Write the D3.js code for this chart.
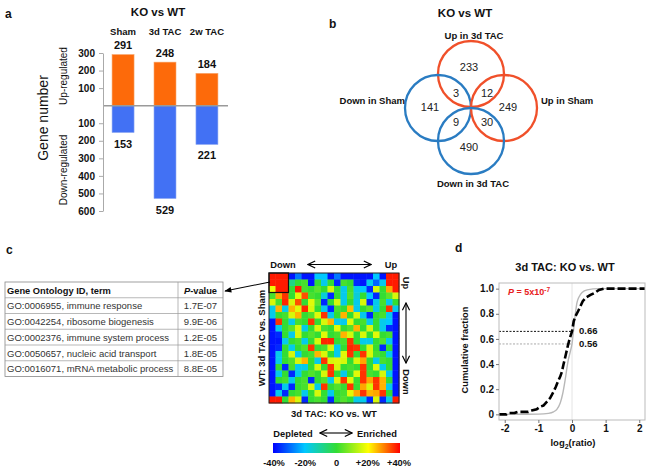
<!DOCTYPE html>
<html><head><meta charset="utf-8">
<script src="https://cdn.jsdelivr.net/npm/d3@7"></script>
<style>body{margin:0;background:#fff;} svg{display:block;}</style>
</head><body><svg id="chart" width="651" height="470"></svg>
<script>
// ---------- DATA ----------
const categories = ["Sham", "3d TAC", "2w TAC"];
const upValues = [291, 248, 184];
const downValues = [153, 529, 221];
const geneTicks = [300, 200, 100, -100, -200, -300, -400, -500, -600];

const vennSets = ["Up in 3d TAC", "Down in Sham", "Up in Sham", "Down in 3d TAC"];
const vennRegions = ["only 3d up", "3d up & sham down", "3d up & sham up", "only sham down", "only sham up", "sham down & 3d down", "sham up & 3d down", "only 3d down"];
const vennCounts = [233, 3, 12, 141, 249, 9, 30, 490];

const goHeader = ["Gene Ontology ID, term", "P-value"];
const goTerms = ["GO:0006955, immune response", "GO:0042254, ribosome biogenesis", "GO:0002376, immune system process", "GO:0050657, nucleic acid transport", "GO:0016071, mRNA metabolic process"];
const goPvalues = ["1.7E-07", "9.9E-06", "1.2E-05", "1.8E-05", "8.8E-05"];

const heatmap = [
 [38,38,38,-38,-28,-38,-38,-20,-20,-38,-28,-38,-38,-38,-38,-38,-20,-38,38,38],
 [38,38,38,-8,0,2,-38,0,-18,0,-36,2,0,-36,-38,-18,-30,-18,38,38],
 [18,38,38,0,38,2,0,4,0,16,0,-18,2,-18,-20,-36,16,0,27,38],
 [2,27,36,0,17,34,2,0,-16,-36,0,-18,3,-16,0,-20,-36,0,4,16],
 [16,2,37,16,34,0,17,4,-36,0,16,-18,0,-18,16,-36,-18,2,-18,0],
 [-18,26,-18,26,17,37,16,0,-18,-36,2,0,25,-18,0,4,-18,0,36,-18],
 [-18,0,2,16,26,0,3,17,36,-18,0,26,0,16,-18,-36,0,2,-18,-38],
 [-38,36,0,-18,2,0,36,0,16,26,-18,-18,17,0,2,-18,0,-18,-20,-38],
 [-38,-18,0,4,16,-18,0,16,2,0,17,0,3,26,0,16,0,-18,-36,-38],
 [-38,-36,0,-18,16,0,3,0,17,0,2,26,16,0,16,0,17,0,2,-38],
 [-38,-38,-18,0,2,-18,0,16,37,37,0,2,36,0,-18,-18,0,3,-18,-38],
 [-38,-36,0,-18,0,3,36,0,2,16,-18,0,37,36,0,16,0,-36,0,-38],
 [-38,-18,0,16,-18,0,2,26,16,0,-18,17,36,0,36,16,2,0,-18,-38],
 [-38,-18,0,3,16,26,0,-18,36,16,17,16,0,16,27,0,-18,2,0,-38],
 [-38,0,-36,2,-18,-18,0,16,0,36,16,0,2,0,36,0,17,-18,0,-38],
 [-38,-18,0,-36,-18,0,3,0,16,36,0,-18,0,17,36,2,0,16,-18,-38],
 [-38,0,2,-18,0,2,-36,0,3,-18,16,36,17,0,36,27,36,26,0,-38],
 [-38,-36,-18,-36,0,2,16,-18,36,0,3,0,36,0,27,16,36,26,-18,-38],
 [-38,-18,-36,0,2,-18,0,16,0,-18,0,2,17,27,36,26,27,36,0,-38],
 [38,38,0,26,16,-36,0,2,0,-36,0,3,0,-18,-18,-36,16,-36,-18,38]
];
const legendTicks = [-40, -20, 0, 20, 40];
const legendLabels = ["-40%", "-20%", "0", "+20%", "+40%"];

const cdfKO = [[-2.17,0],[-1.95,0],[-1.9,0.01],[-1.7,0.012],[-1.6,0.02],[-1.3,0.02],[-1.2,0.03],[-1.05,0.04],[-0.95,0.06],[-0.85,0.07],[-0.75,0.1],[-0.65,0.13],[-0.55,0.18],[-0.48,0.22],[-0.42,0.26],[-0.35,0.3],[-0.3,0.34],[-0.25,0.4],[-0.18,0.48],[-0.12,0.55],[-0.06,0.61],[0,0.66],[0.05,0.74],[0.1,0.78],[0.18,0.82],[0.25,0.86],[0.32,0.9],[0.42,0.93],[0.55,0.95],[0.7,0.97],[0.8,0.99],[0.95,1.0],[2.17,1.0]];
const cdfAll = [[-2.17,0],[-1,0.002],[-0.7,0.008],[-0.55,0.02],[-0.45,0.04],[-0.35,0.09],[-0.28,0.16],[-0.2,0.28],[-0.12,0.42],[-0.05,0.5],[0,0.56],[0.05,0.68],[0.1,0.8],[0.15,0.89],[0.2,0.93],[0.3,0.97],[0.45,0.99],[0.8,1],[2.17,1]];
const cdfTicksX = [-2, -1, 0, 1, 2];
const cdfTicksY = [0, 0.2, 0.4, 0.6, 0.8, 1];
const cdfMarks = [0.66, 0.56];

// ---------- DRAW ----------
const FONT = '"Liberation Sans", Arial, Helvetica, sans-serif';
const svg = d3.select("#chart").attr("font-family", FONT);
svg.append("rect").attr("width", 651).attr("height", 470).attr("fill", "#fff");

const defs = svg.append("defs");
defs.append("marker").attr("id", "open").attr("viewBox", "0 0 10 10")
  .attr("refX", 9).attr("refY", 5).attr("markerWidth", 9).attr("markerHeight", 9)
  .attr("markerUnits", "userSpaceOnUse").attr("orient", "auto-start-reverse")
  .append("path").attr("d", "M1,1 L9,5 L1,9").attr("fill", "none").attr("stroke", "#000").attr("stroke-width", 1.3);
defs.append("marker").attr("id", "solid").attr("viewBox", "0 0 10 10")
  .attr("refX", 9).attr("refY", 5).attr("markerWidth", 9).attr("markerHeight", 7)
  .attr("markerUnits", "userSpaceOnUse").attr("orient", "auto")
  .append("path").attr("d", "M0,1 L10,5 L0,9 Z").attr("fill", "#000");

function txt(g, x, y, s, size, weight, anchor, fill) {
  return g.append("text").attr("x", x).attr("y", y).text(s)
    .attr("font-size", size).attr("font-weight", weight || "normal")
    .attr("text-anchor", anchor || "start").attr("fill", fill || "#111");
}

// ===== Panel a =====
const ga = svg.append("g");
txt(ga, 5, 18, "a", 12, "bold");
txt(ga, 158, 16, "KO vs WT", 11.5, "bold", "middle");
const ya = d3.scaleLinear().domain([-600, 300]).range([211, 53]);
const xa = d3.scaleBand().domain(categories).range([102, 228]).paddingInner(0.476).paddingOuter(0.24);

ga.selectAll(".cat").data(categories).join("text")
  .attr("x", d => xa(d) + xa.bandwidth() / 2).attr("y", 35).text(d => d)
  .attr("font-size", 9.5).attr("font-weight", "bold").attr("text-anchor", "middle").attr("fill", "#111");

ga.selectAll(".up").data(categories).join("rect")
  .attr("x", d => xa(d)).attr("width", xa.bandwidth())
  .attr("y", (d, i) => ya(upValues[i])).attr("height", (d, i) => ya(0) - ya(upValues[i]))
  .attr("fill", "#fd6a0a").attr("stroke", "#f7a56b").attr("stroke-width", 0.6);
ga.selectAll(".down").data(categories).join("rect")
  .attr("x", d => xa(d)).attr("width", xa.bandwidth())
  .attr("y", ya(0)).attr("height", (d, i) => ya(-downValues[i]) - ya(0))
  .attr("fill", "#4271f4").attr("stroke", "#8fa9f0").attr("stroke-width", 0.6);

ga.selectAll(".uplab").data(categories).join("text")
  .attr("x", d => xa(d) + xa.bandwidth() / 2).attr("y", (d, i) => ya(upValues[i]) - 5.5)
  .text((d, i) => upValues[i]).attr("font-size", 11).attr("font-weight", "bold").attr("text-anchor", "middle").attr("fill", "#111");
ga.selectAll(".dnlab").data(categories).join("text")
  .attr("x", d => xa(d) + xa.bandwidth() / 2).attr("y", (d, i) => ya(-downValues[i]) + 15)
  .text((d, i) => downValues[i]).attr("font-size", 11).attr("font-weight", "bold").attr("text-anchor", "middle").attr("fill", "#111");

ga.append("line").attr("x1", 103).attr("x2", 228).attr("y1", ya(0)).attr("y2", ya(0))
  .attr("stroke", "#9a9a9a").attr("stroke-width", 1.5);

const axA = ga.append("g").attr("transform", "translate(103,0)")
  .call(d3.axisLeft(ya).tickValues(geneTicks).tickFormat(d => Math.abs(d)).tickSize(4).tickSizeOuter(0).tickPadding(4));
axA.attr("font-family", FONT);
axA.select(".domain").attr("stroke", "#aaa");
axA.selectAll(".tick line").attr("stroke", "#aaa");
axA.selectAll("text").attr("font-size", 10).attr("font-weight", "bold").attr("fill", "#111");

txt(ga, 0, 0, "Up-regulated", 10, "normal", "middle").attr("transform", "translate(67,76) rotate(-90)");
txt(ga, 0, 0, "Down-regulated", 10, "normal", "middle").attr("transform", "translate(67,170) rotate(-90)");
txt(ga, 0, 0, "Gene number", 14, "normal", "middle").attr("transform", "translate(48,118) rotate(-90)");

// ===== Panel b =====
const gb = svg.append("g");
txt(gb, 329, 28, "b", 12, "bold");
txt(gb, 465, 17, "KO vs WT", 11.5, "bold", "middle");
const vr = 33;
const vennCenters = [[471, 74], [438, 108], [504, 108], [471, 141]];
const vennColors = ["#f0502a", "#2a7cc2", "#f0502a", "#2a7cc2"];
gb.selectAll("circle").data(vennSets).join("circle")
  .attr("cx", (d, i) => vennCenters[i][0]).attr("cy", (d, i) => vennCenters[i][1]).attr("r", vr)
  .attr("fill", "none").attr("stroke", (d, i) => vennColors[i]).attr("stroke-width", 2.3);
const vennLabelPos = [[474, 38.5, "middle"], [405, 104, "end"], [541, 104, "start"], [473, 186.5, "middle"]];
gb.selectAll(".vl").data(vennSets).join("text")
  .attr("x", (d, i) => vennLabelPos[i][0]).attr("y", (d, i) => vennLabelPos[i][1])
  .attr("text-anchor", (d, i) => vennLabelPos[i][2]).text(d => d)
  .attr("font-size", 9.5).attr("font-weight", "bold").attr("fill", "#111");
const vennNumPos = [[469, 71], [456, 97], [487, 97], [430, 111], [508, 111], [456, 126], [487, 126], [469, 151]];
gb.selectAll(".vn").data(vennCounts).join("text")
  .attr("x", (d, i) => vennNumPos[i][0]).attr("y", (d, i) => vennNumPos[i][1])
  .attr("text-anchor", "middle").text(d => d).attr("font-size", 11).attr("fill", "#222");

// ===== Panel c =====
const gc = svg.append("g");
txt(gc, 6, 254, "c", 12, "bold");
const rowsY = d3.scaleBand().domain(d3.range(goTerms.length + 1)).range([282, 376.5]);
const tX0 = 5, tX1 = 178, tX2 = 223;
gc.append("rect").attr("x", tX0).attr("y", 282).attr("width", tX2 - tX0).attr("height", 94.5)
  .attr("fill", "none").attr("stroke", "#888").attr("stroke-width", 0.8);
gc.selectAll(".hl").data(d3.range(1, goTerms.length + 1)).join("line")
  .attr("x1", tX0).attr("x2", tX2).attr("y1", d => rowsY(d)).attr("y2", d => rowsY(d))
  .attr("stroke", "#999").attr("stroke-width", 0.7);
gc.append("line").attr("x1", tX1).attr("x2", tX1).attr("y1", 282).attr("y2", 376.5).attr("stroke", "#999").attr("stroke-width", 0.7);
txt(gc, 7, rowsY(0) + 11.5, goHeader[0], 9.3, "bold");
const ph = txt(gc, 200.5, rowsY(0) + 11.5, "", 9.3, "bold", "middle");
ph.append("tspan").attr("font-style", "italic").text(goHeader[1].split("-")[0]);
ph.append("tspan").text("-" + goHeader[1].split("-")[1]);
gc.selectAll(".go").data(goTerms).join("text")
  .attr("x", 7).attr("y", (d, i) => rowsY(i + 1) + 11.5).text(d => d)
  .attr("font-size", 9.5).attr("fill", "#333");
gc.selectAll(".pv").data(goPvalues).join("text")
  .attr("x", 200.5).attr("y", (d, i) => rowsY(i + 1) + 11.5).text(d => d)
  .attr("font-size", 9.5).attr("fill", "#333").attr("text-anchor", "middle");

// heatmap
const hx = d3.scaleBand().domain(d3.range(20)).range([269, 399]);
const hy = d3.scaleBand().domain(d3.range(20)).range([273, 403]);
const hcol = d3.scaleLinear().domain(legendTicks).range(["#0000ff", "#00c8ff", "#33dd33", "#ffff00", "#ff0000"]).clamp(true);
const cells = [];
heatmap.forEach((row, r) => row.forEach((v, c) => cells.push({ r, c, v })));
gc.append("g").selectAll("rect").data(cells).join("rect")
  .attr("x", d => hx(d.c)).attr("y", d => hy(d.r))
  .attr("width", hx.bandwidth() + 0.4).attr("height", hy.bandwidth() + 0.4)
  .attr("fill", d => hcol(d.v));
gc.append("rect").attr("x", 269).attr("y", 273).attr("width", 130).attr("height", 130)
  .attr("fill", "none").attr("stroke", "#222").attr("stroke-width", 1);
gc.append("rect").attr("x", hx(0)).attr("y", hy(0)).attr("width", hx.bandwidth() * 3).attr("height", hy.bandwidth() * 3)
  .attr("fill", "none").attr("stroke", "#111").attr("stroke-width", 1.2);
// arrow to table
gc.append("line").attr("x1", 270).attr("y1", 282).attr("x2", 225).attr("y2", 291)
  .attr("stroke", "#000").attr("stroke-width", 1.1).attr("marker-end", "url(#solid)");

txt(gc, 283, 268, "Down", 9.3, "bold", "middle");
txt(gc, 391, 268, "Up", 9.3, "bold", "middle");
gc.append("line").attr("x1", 308).attr("x2", 371).attr("y1", 264.5).attr("y2", 264.5)
  .attr("stroke", "#000").attr("stroke-width", 1.1).attr("marker-start", "url(#open)").attr("marker-end", "url(#open)");
txt(gc, 0, 0, "Up", 9.3, "bold", "middle").attr("transform", "translate(402.5,283) rotate(90)");
txt(gc, 0, 0, "Down", 9.3, "bold", "middle").attr("transform", "translate(402.5,382) rotate(90)");
gc.append("line").attr("x1", 406).attr("x2", 406).attr("y1", 303).attr("y2", 363)
  .attr("stroke", "#000").attr("stroke-width", 1.1).attr("marker-start", "url(#open)").attr("marker-end", "url(#open)");
txt(gc, 0, 0, "WT: 3d TAC vs. Sham", 9.5, "bold", "middle").attr("transform", "translate(264.5,338) rotate(-90)");
txt(gc, 334, 417, "3d TAC: KO vs. WT", 9.5, "bold", "middle");

// legend
txt(gc, 293, 436.5, "Depleted", 9.3, "bold", "middle");
txt(gc, 377, 436.5, "Enriched", 9.3, "bold", "middle");
gc.append("line").attr("x1", 320).attr("x2", 352).attr("y1", 433).attr("y2", 433)
  .attr("stroke", "#000").attr("stroke-width", 1.1).attr("marker-start", "url(#open)").attr("marker-end", "url(#open)");
const grad = defs.append("linearGradient").attr("id", "jet");
legendTicks.forEach((t, i) => grad.append("stop").attr("offset", (i / (legendTicks.length - 1)) * 100 + "%").attr("stop-color", hcol(t)));
const lx = d3.scaleLinear().domain([-40, 40]).range([274, 399]);
gc.append("rect").attr("x", lx(-40) - 1).attr("y", 443).attr("width", lx(40) - lx(-40) + 2).attr("height", 10).attr("fill", "url(#jet)");
gc.selectAll(".lt").data(legendTicks).join("text")
  .attr("x", d => lx(d)).attr("y", 465.5).text((d, i) => legendLabels[i])
  .attr("font-size", 9.3).attr("font-weight", "bold").attr("text-anchor", "middle").attr("fill", "#111");

// ===== Panel d =====
const gd = svg.append("g");
txt(gd, 455, 252, "d", 12, "bold");
txt(gd, 565, 271, "3d TAC: KO vs. WT", 11, "bold", "middle");
const xd = d3.scaleLinear().domain([-2.17, 2.17]).range([499, 645]);
const yd = d3.scaleLinear().domain([-0.045, 1.045]).range([420, 283]);
gd.append("line").attr("x1", xd(0)).attr("x2", xd(0)).attr("y1", 283).attr("y2", 420).attr("stroke", "#ddd").attr("stroke-width", 0.8);
gd.append("line").attr("x1", xd(-2.17)).attr("x2", xd(0)).attr("y1", yd(cdfMarks[0])).attr("y2", yd(cdfMarks[0]))
  .attr("stroke", "#111").attr("stroke-width", 1).attr("stroke-dasharray", "2,1.5");
gd.append("line").attr("x1", xd(-2.17)).attr("x2", xd(0)).attr("y1", yd(cdfMarks[1])).attr("y2", yd(cdfMarks[1]))
  .attr("stroke", "#aaa").attr("stroke-width", 1).attr("stroke-dasharray", "2,1.5");
gd.append("path").datum(cdfAll)
  .attr("d", d3.line().x(d => xd(d[0])).y(d => yd(d[1])).curve(d3.curveMonotoneX))
  .attr("fill", "none").attr("stroke", "#b8b8b8").attr("stroke-width", 1.4);
gd.append("path").datum(cdfKO)
  .attr("d", d3.line().x(d => xd(d[0])).y(d => yd(d[1])))
  .attr("fill", "none").attr("stroke", "#000").attr("stroke-width", 2.6).attr("stroke-dasharray", "8,3");
gd.append("rect").attr("x", 499).attr("y", 283).attr("width", 146).attr("height", 137)
  .attr("fill", "none").attr("stroke", "#bbb").attr("stroke-width", 1);
const axDy = gd.append("g").attr("transform", "translate(499,0)")
  .call(d3.axisLeft(yd).tickValues(cdfTicksY).tickFormat(d => d === 0 ? "0" : d3.format(".1f")(d)).tickSize(3).tickPadding(2));
const axDx = gd.append("g").attr("transform", "translate(0,420)")
  .call(d3.axisBottom(xd).tickValues(cdfTicksX).tickFormat(d => d).tickSize(3).tickPadding(2));
[axDy, axDx].forEach(a => {
  a.attr("font-family", FONT);
  a.select(".domain").remove();
  a.selectAll(".tick line").attr("stroke", "#777");
  a.selectAll("text").attr("font-size", 10).attr("font-weight", "bold").attr("fill", "#111");
});
txt(gd, 0, 0, "Cumulative fraction", 9.3, "bold", "middle").attr("transform", "translate(468,350) rotate(-90)");
const xl = txt(gd, 573, 446, "log", 9.5, "bold", "middle");
xl.append("tspan").attr("font-size", 7).attr("dy", 2.5).text("2");
xl.append("tspan").attr("dy", -2.5).text("(ratio)");
txt(gd, 579, 333.5, d3.format(".2f")(cdfMarks[0]), 9.5, "bold");
txt(gd, 579, 347, d3.format(".2f")(cdfMarks[1]), 9.5, "bold");
const pt = txt(gd, 508, 295, "", 9, "bold", "start", "#e8201c");
pt.append("tspan").attr("font-style", "italic").text("P");
pt.append("tspan").text(" = 5x10");
pt.append("tspan").attr("font-size", 6.5).attr("dy", -3.5).text("-7");
</script>
</body></html>
